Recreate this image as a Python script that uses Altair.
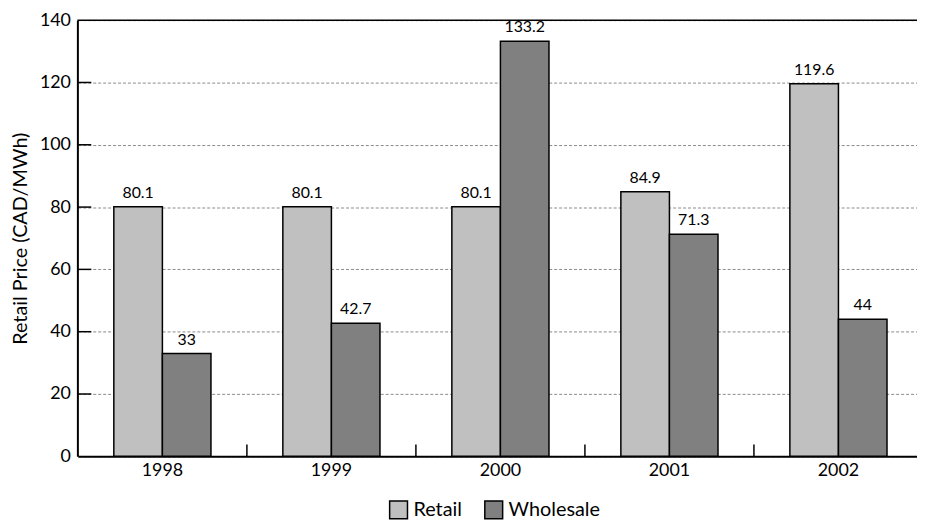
import altair as alt
import pandas as pd

years = ["1998", "1999", "2000", "2001", "2002"]
retail = [80.1, 80.1, 80.1, 84.9, 119.6]
wholesale = [33, 42.7, 133.2, 71.3, 44]
series_names = ["Retail", "Wholesale"]
series_colors = ["#c0c0c0", "#808080"]
y_tick_values = [0, 20, 40, 60, 80, 100, 120, 140]
inner_y_ticks = [20, 40, 60, 80, 100, 120]
top_value = [140]
x_tick_years = years[1:]

rows = []
for i, yr in enumerate(years):
    rows.append({"year": yr, "series": "Retail", "value": retail[i], "label": f"{retail[i]:g}"})
    rows.append({"year": yr, "series": "Wholesale", "value": wholesale[i], "label": f"{wholesale[i]:g}"})
df = pd.DataFrame(rows)

W, H = 847, 440
FONT = "Lato"

x_scale = alt.Scale(domain=years, range=[0.5, 853], paddingInner=0, paddingOuter=0)
y_scale = alt.Scale(domain=[0, 140], nice=False, zero=True)
off_scale = alt.Scale(domain=series_names, paddingOuter=0.74, paddingInner=0)

x_enc = alt.X(
    "year:N", scale=x_scale, sort=years,
    axis=alt.Axis(title=None, labelFontSize=18, labelFont=FONT, labelColor="black",
                  labelAngle=0, tickSize=0, labelPadding=5, domainColor="black",
                  domainWidth=2, grid=False),
)
y_enc = alt.Y(
    "value:Q", scale=y_scale,
    axis=alt.Axis(title="Retail Price (CAD/MWh)", titleFontSize=20, titleFont=FONT,
                  titleFontWeight="normal", titleColor="black", titlePadding=9,
                  values=y_tick_values, labelFontSize=18, labelFont=FONT,
                  labelColor="black", tickSize=0, labelPadding=7,
                  domainColor="black", domainWidth=2, grid=True,
                  gridDash=[3, 2], gridColor="#8a8a8a", gridWidth=1),
)
off_enc = alt.XOffset("series:N", sort=series_names, scale=off_scale)

base = alt.Chart(df)

bars = base.mark_bar(stroke="black", strokeWidth=1.5, opacity=1).encode(
    x=x_enc,
    xOffset=off_enc,
    y=y_enc,
    color=alt.Color(
        "series:N",
        scale=alt.Scale(domain=series_names, range=series_colors),
        legend=alt.Legend(
            title=None, orient="none", legendX=314, legendY=484,
            direction="horizontal", symbolType="square", symbolSize=324,
            symbolStrokeColor="black", symbolStrokeWidth=1.5, symbolOpacity=1,
            labelFontSize=20, labelFont=FONT, labelColor="black",
            labelOffset=5, columnPadding=20,
        ),
    ),
)

labels = base.mark_text(dy=-9, baseline="alphabetic", fontSize=16, font=FONT,
                        color="black").encode(
    x=alt.X("year:N", sort=years),
    xOffset=off_enc,
    y=alt.Y("value:Q"),
    text="label:N",
)

top_line = alt.Chart(pd.DataFrame({"value": top_value})).mark_rule(
    color="black", strokeWidth=1.5
).encode(y=alt.Y("value:Q"), x=alt.value(0), x2=alt.value(W))

y_inner = alt.Chart(pd.DataFrame({"value": inner_y_ticks})).mark_rule(
    color="black", strokeWidth=1.5
).encode(y=alt.Y("value:Q"), x=alt.value(0), x2=alt.value(14))

x_inner = alt.Chart(pd.DataFrame({"year": x_tick_years})).mark_rule(
    color="black", strokeWidth=1.5
).encode(x=alt.X("year:N", bandPosition=0), y=alt.value(H - 12), y2=alt.value(H))

chart = alt.layer(bars, labels, top_line, y_inner, x_inner).properties(
    width=W, height=H,
    autosize=alt.AutoSizeParams(type="none"),
    padding={"left": 70, "top": 10, "right": 0, "bottom": 64},
).configure_view(stroke=None)

chart.save("out.html", embed_options={"renderer": "svg", "actions": False})
